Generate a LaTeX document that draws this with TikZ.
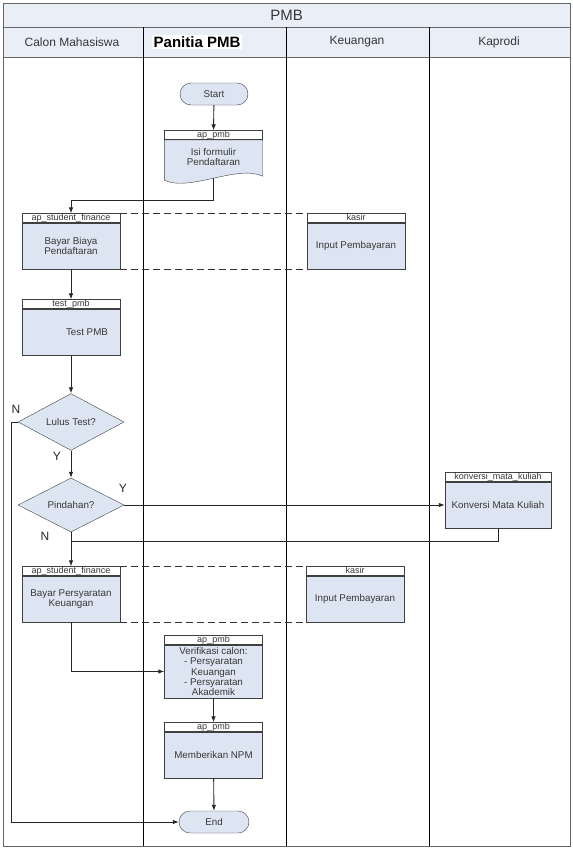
\documentclass[tikz,border=0pt]{standalone}
\usepackage{fontspec}
\setmainfont{Liberation Sans}
\usetikzlibrary{arrows.meta,positioning,shapes.geometric,shapes.misc,calc,backgrounds}
\definecolor{lanefill}{RGB}{233,238,247}
\definecolor{taskfill}{RGB}{222,229,242}
\definecolor{inkgray}{RGB}{55,55,55}
\tikzset{
  lane/.style={
    draw=black!60,
    fill=lanefill,
    line width=0.8pt
  },
  lanetitle/.style={
    text=inkgray,
    font=\fontsize{12}{14}\selectfont
  },
  task/.style={
    rectangle,
    draw=black!75,
    fill=taskfill,
    minimum width=98pt,
    minimum height=46pt,
    inner sep=0pt,
    align=center,
    text=inkgray,
    font=\fontsize{9.8}{10.4}\selectfont
  },
  tagbox/.style={
    rectangle,
    draw=black!75,
    fill=white,
    minimum width=98pt,
    minimum height=9pt,
    inner sep=0pt,
    text height=6.5pt,
    text depth=1pt,
    text=inkgray,
    font=\fontsize{9}{9}\selectfont
  },
  terminal/.style={
    rounded rectangle,
    draw=black!75,
    fill=taskfill,
    minimum width=68pt,
    minimum height=22pt,
    inner sep=0pt,
    text=inkgray,
    font=\fontsize{9.8}{11}\selectfont
  },
  decision/.style={
    diamond,
    draw=black!75,
    fill=taskfill,
    minimum width=106pt,
    minimum height=45pt,
    inner sep=0pt,
    text=inkgray,
    font=\fontsize{9.8}{11}\selectfont
  },
  arrow/.style={
    -{Latex[length=6pt,width=4.5pt]},
    line width=0.9pt,
    draw=black!85
  },
  link/.style={
    line width=0.9pt,
    draw=black!85
  },
  dashedlink/.style={
    line width=0.9pt,
    draw=black!80,
    dash pattern=on 7pt off 4pt
  },
  branch/.style={
    text=black!85,
    font=\fontsize{12}{13}\selectfont
  }
}

\begin{document}
\begin{tikzpicture}[x=1pt, y=-1pt]
  \useasboundingbox (0,0) rectangle (573,849);

  % pool and lanes
  \draw[lane] (3,3) rectangle (570,27);
  \draw[lane] (3,27) rectangle (570,57);
  \draw[draw=black!60, line width=0.8pt] (3,57) rectangle (570,846);
  \foreach \x in {143,286,429}
    \draw[black, line width=1pt] (\x,27) -- (\x,846);
  \node[lanetitle, font=\fontsize{15}{17}\selectfont] (pool) at (286.5,15) {PMB};
  \node[lanetitle] (calon) at (72,42) {Calon Mahasiswa};
  \node[fill=white, inner sep=1.5pt, font=\bfseries\fontsize{15}{17}\selectfont] (panitia) at (197,42) {Panitia PMB};
  \node[lanetitle] (keu) at (357,42) {Keuangan};
  \node[lanetitle] (kaprodi) at (499,42) {Kaprodi};

  % steps
  \node[terminal] (start) at (214,94) {Start};
  \node[task, draw=none, fill=none, minimum height=34pt] (isi) at (213.5,157) {Isi formulir\\Pendaftaran};
  \node[tagbox, above=0pt of isi] (isiT) {ap\_pmb};
  \begin{scope}[on background layer]
    \draw[draw=black!75, fill=taskfill] (isi.north west) -- (isi.north east) -- ($(isi.south east)+(0,2)$)
      .. controls +(-25,-12) and +(25,12) .. ($(isi.south west)+(0,6)$) -- cycle;
  \end{scope}
  \coordinate (isiend) at ($(isi.south)+(0,4)$);

  \node[task] (bayar) at (71,246) {Bayar Biaya\\Pendaftaran};
  \node[tagbox, above=0pt of bayar] (bayarT) {ap\_student\_finance};
  \node[task] (kasir) at (356,246) {Input Pembayaran};
  \node[tagbox, above=0pt of kasir] (kasirT) {kasir};

  \node[task] (test) at (71,332) {\hspace*{32pt}Test PMB};
  \node[tagbox, above=0pt of test] (testT) {test\_pmb};

  \node[decision] (lulus) at (71,422) {Lulus Test?};
  \node[decision] (pindah) at (71,505) {Pindahan?};

  \node[task, minimum width=106pt] (konv) at (498,505) {Konversi Mata Kuliah};
  \node[tagbox, minimum width=106pt, above=0pt of konv] (konvT) {konversi\_mata\_kuliah};

  \node[task] (bayar2) at (71,599) {Bayar Persyaratan\\Keuangan};
  \node[tagbox, above=0pt of bayar2] (bayar2T) {ap\_student\_finance};
  \node[task] (kasir2) at (355,599) {Input Pembayaran};
  \node[tagbox, above=0pt of kasir2] (kasir2T) {kasir};

  \node[task, minimum height=53pt] (verif) at (213.5,671.5) {Verifikasi calon:\\- Persyaratan\\Keuangan\\- Persyaratan\\Akademik};
  \node[tagbox, above=0pt of verif] (verifT) {ap\_pmb};

  \node[task] (npm) at (213.5,755) {Memberikan NPM};
  \node[tagbox, above=0pt of npm] (npmT) {ap\_pmb};

  \node[terminal, minimum width=70pt] (end) at (214,822) {End};

  % branch labels
  \node[branch] (lulusN) at (16,409) {N};
  \node[branch] (lulusY) at (57,456) {Y};
  \node[branch] (pindahY) at (123,488) {Y};
  \node[branch] (pindahN) at (45,536) {N};

  % flow
  \draw[arrow] (start) -- (isiT);
  \draw[arrow] (isiend) -- ++(0,22) -| (bayarT.north);
  \draw[dashedlink] (bayarT.north east) -- (kasirT.north west);
  \draw[dashedlink] (bayar.south east) -- (kasir.south west);
  \draw[arrow] (bayar) -- (testT);
  \draw[arrow] (test) -- (lulus);
  \draw[arrow] (lulus.west) -- ++(-6,0) |- (end.west);
  \draw[arrow] (lulus) -- (pindah);
  \draw[arrow] (pindah.east) -- (konv.west);
  \draw[arrow] (pindah) -- (bayar2T);
  \coordinate (merge) at (71,541);
  \draw[link] (konv.south) |- (merge);
  \draw[dashedlink] (bayar2T.north east) -- (kasir2T.north west);
  \draw[dashedlink] (bayar2.south east) -- (kasir2.south west);
  \draw[arrow] (bayar2.south) |- (verif.west);
  \draw[arrow] (verif) -- (npmT);
  \draw[arrow] (npm) -- (end);
\end{tikzpicture}
\end{document}
